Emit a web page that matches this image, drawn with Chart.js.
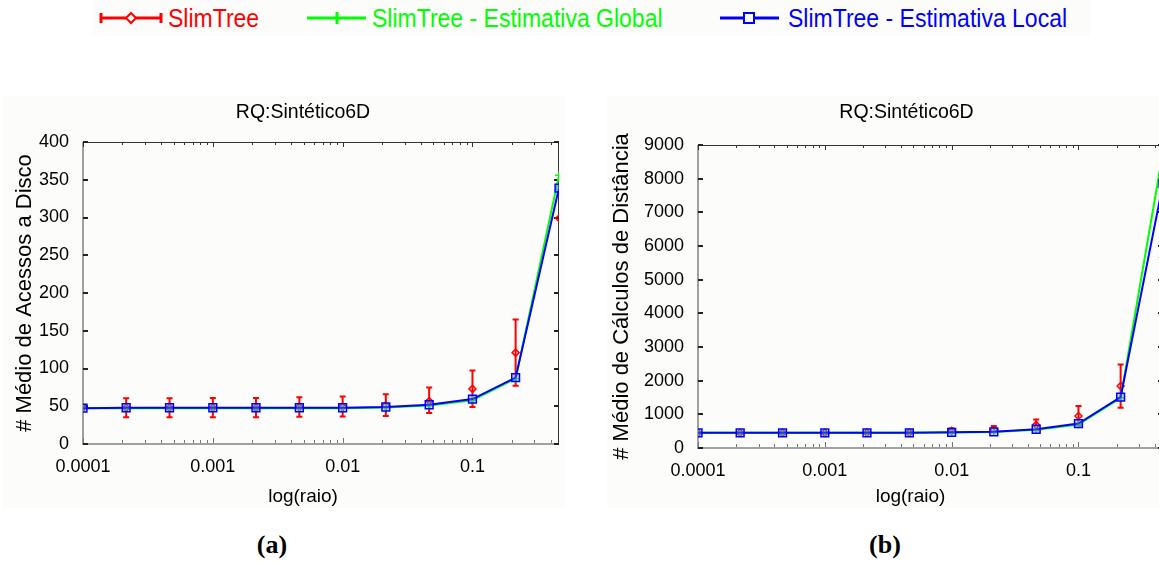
<!DOCTYPE html>
<html>
<head>
<meta charset="utf-8">
<script src="https://cdn.jsdelivr.net/npm/chart.js@4.4.0/dist/chart.umd.min.js"></script>
<style>
  html, body { margin: 0; padding: 0; background: #fff; }
  body { width: 1159px; height: 563px; position: relative; overflow: hidden; font-family: 'Liberation Sans', Arial, sans-serif; }
  .legend-box { position: absolute; left: 93px; top: 0; width: 997px; height: 36px; background: #fcfcfa; }
  .lg-icon { position: absolute; top: 0; }
  .lg-text { position: absolute; top: 0; line-height: 36px; font-size: 23px; white-space: nowrap; transform: scaleY(1.1); }
  .panel { position: absolute; top: 96px; height: 412px; background: #fcfcfa; }
  canvas { position: absolute; top: 88px; }
  .caption { position: absolute; top: 530px; font: bold 26px 'Liberation Serif', 'Times New Roman', serif; transform: translateX(-50%); }
</style>
</head>
<body>
<div class="legend-box"></div>
<svg class="lg-icon" style="left:99px" width="64" height="36">
  <path d="M2 18 H62 M2 13 V23 M62 13 V23" stroke="#ff0000" stroke-width="3" fill="none"/>
  <polygon points="32,13 37,18 32,23 27,18" fill="#fcfcfa" stroke="#ff0000" stroke-width="2"/>
</svg>
<span class="lg-text" style="left:168px;color:#ff0000">SlimTree</span>
<svg class="lg-icon" style="left:306px" width="62" height="36">
  <path d="M1 18 H60 M31 12 V24" stroke="#00ff00" stroke-width="3" fill="none"/>
</svg>
<span class="lg-text" style="left:372px;color:#00ff00">SlimTree - Estimativa Global</span>
<svg class="lg-icon" style="left:719px" width="62" height="36">
  <path d="M1 18 H60" stroke="#0000ff" stroke-width="3" fill="none"/>
  <rect x="25" y="13" width="10" height="10" fill="#fcfcfa" stroke="#0000ff" stroke-width="2"/>
</svg>
<span class="lg-text" style="left:788px;color:#0000ff">SlimTree - Estimativa Local</span>

<div class="panel" style="left:2px;width:563px"></div>
<div class="panel" style="left:607px;width:552px"></div>
<canvas id="chart-disk" width="571" height="422" style="left:0"></canvas>
<canvas id="chart-dist" width="570" height="422" style="left:606px"></canvas>
<div class="caption" style="left:272px">(a)</div>
<div class="caption" style="left:885px">(b)</div>

<script>
// radius values (x axis, log scale)
const RAIO = [0.0001, 0.000215, 0.000464, 0.001, 0.00215, 0.00464, 0.01, 0.0215, 0.0464, 0.1, 0.215, 0.464];
const X_TICK_LABELS = ['0.0001', '0.001', '0.01', '0.1'];

// (a) disk accesses
const DISK_SLIM    = [48, 48, 48, 48, 48, 49, 49.5, 51, 57, 73, 121, 299];
const DISK_SLIM_LO = [48, 35.5, 35.5, 35.5, 35.5, 36, 36.5, 37, 41, 49, 77, 299];
const DISK_SLIM_HI = [48, 60.5, 60.5, 61, 61, 62, 63, 66, 75, 97.5, 165, 299];
const DISK_GLOBAL  = [47.5, 47.5, 47.5, 47.5, 47.5, 47.5, 47.5, 48.5, 51, 58, 86.5, 356];
const DISK_LOCAL   = [47.5, 48, 48, 48, 48, 48, 48, 49, 52, 59.5, 88, 339];

// (b) distance calculations
const DIST_SLIM    = [450, 450, 450, 450, 455, 455, 509, 547, 686, 952, 1840, 5660];
const DIST_SLIM_LO = [450, 440, 440, 440, 440, 440, 460, 470, 530, 675, 1198, 5660];
const DIST_SLIM_HI = [450, 470, 470, 470, 475, 480, 577, 656, 843, 1248, 2480, 5660];
const DIST_GLOBAL  = [450, 450, 450, 450, 452, 452, 462, 478, 540, 700, 1490, 8800];
const DIST_LOCAL   = [450, 450, 450, 450, 452, 452, 465, 482, 557, 725, 1514, 7850];

const TITLE = 'RQ:Sintético6D';
const X_TITLE = 'log(raio)';

const FONT = "'Liberation Sans', Arial, sans-serif";
const RED = '#ff0000', GREEN = '#00ff00', BLUE = '#0000ff';

Chart.defaults.font.family = FONT;
Chart.defaults.color = '#000';

function isDecade(v) {
  const l = Math.log10(v);
  return Math.abs(l - Math.round(l)) < 1e-9;
}
function isLogStep(v) {
  const m = v / Math.pow(10, Math.floor(Math.log10(v) + 1e-9));
  return Math.abs(m - Math.round(m)) < 1e-6;
}
const pts = ys => RAIO.map((x, i) => ({ x, y: ys[i] }));

// frame with inward ticks + error bars, drawn under the series
const frameAndErrors = {
  id: 'frameAndErrors',
  beforeDatasetsDraw(chart) {
    const { ctx, chartArea: a, scales: { x, y } } = chart;
    ctx.save();
    // top / right frame
    ctx.strokeStyle = '#333';
    ctx.lineWidth = 1;
    ctx.beginPath();
    ctx.moveTo(a.left, a.top + 0.5); ctx.lineTo(a.right, a.top + 0.5);
    ctx.moveTo(a.right - 0.5, a.top); ctx.lineTo(a.right - 0.5, a.bottom);
    ctx.stroke();
    // left / bottom axes
    ctx.strokeStyle = '#a0a0a0';
    ctx.lineWidth = 2;
    ctx.beginPath();
    ctx.moveTo(a.left, a.top); ctx.lineTo(a.left, a.bottom);
    ctx.lineTo(a.right, a.bottom);
    ctx.stroke();
    // x ticks
    ctx.lineWidth = 1;
    x.ticks.forEach(t => {
      if (!isLogStep(t.value)) return;
      const px = Math.round(x.getPixelForValue(t.value)) + 0.5;
      const len = isDecade(t.value) ? 5 : 3;
      ctx.strokeStyle = '#333';
      ctx.beginPath(); ctx.moveTo(px, a.top); ctx.lineTo(px, a.top + len); ctx.stroke();
      ctx.strokeStyle = '#777';
      ctx.beginPath(); ctx.moveTo(px, a.bottom - 1); ctx.lineTo(px, a.bottom - 1 - len); ctx.stroke();
    });
    // y ticks
    ctx.strokeStyle = '#222';
    ctx.lineWidth = 2;
    y.ticks.forEach(t => {
      const py = Math.round(y.getPixelForValue(t.value));
      ctx.beginPath();
      ctx.moveTo(a.left, py); ctx.lineTo(a.left + 5, py);
      ctx.moveTo(a.right, py); ctx.lineTo(a.right - 5, py);
      ctx.stroke();
    });
    // error bars
    chart.data.datasets.forEach(ds => {
      if (!ds.errLo) return;
      ctx.strokeStyle = ds.borderColor;
      ctx.lineWidth = 2;
      ds.data.forEach((p, i) => {
        const lo = ds.errLo[i], hi = ds.errHi[i];
        if (lo === hi) return;
        const px = x.getPixelForValue(p.x);
        const yl = y.getPixelForValue(lo), yh = y.getPixelForValue(hi);
        ctx.beginPath();
        ctx.moveTo(px, yl); ctx.lineTo(px, yh);
        ctx.moveTo(px - 3, yl); ctx.lineTo(px + 3, yl);
        ctx.moveTo(px - 3, yh); ctx.lineTo(px + 3, yh);
        ctx.stroke();
      });
    });
    ctx.restore();
  }
};

// chart title and x-axis title, both set a little left of the plot centre
const headings = {
  id: 'headings',
  afterDraw(chart, args, opts) {
    const { ctx, chartArea: a } = chart;
    const cx = (a.left + a.right) / 2;
    ctx.save();
    ctx.fillStyle = '#000';
    ctx.textAlign = 'center';
    ctx.textBaseline = 'middle';
    ctx.font = `19.5px ${FONT}`;
    ctx.fillText(TITLE, cx + opts.titleDx, 25);
    ctx.font = `19px ${FONT}`;
    ctx.fillText(X_TITLE, cx + opts.xTitleDx, 409);
    ctx.restore();
  }
};

function makeChart(id, s) {
  return new Chart(document.getElementById(id), {
    type: 'line',
    data: {
      datasets: [
        {
          label: 'SlimTree', data: pts(s.slim), errLo: s.lo, errHi: s.hi,
          showLine: false, borderColor: RED, backgroundColor: 'rgba(0,0,0,0)',
          pointStyle: 'rectRot', pointRadius: 3.5, pointBorderWidth: 1.5, order: 3,
        },
        {
          label: 'SlimTree - Estimativa Global', data: pts(s.global),
          borderColor: GREEN, backgroundColor: GREEN, borderWidth: 2,
          pointStyle: 'cross', pointRadius: 4, pointBorderWidth: 1.5, order: 2,
        },
        {
          label: 'SlimTree - Estimativa Local', data: pts(s.local),
          borderColor: BLUE, backgroundColor: 'rgba(110,140,255,0.35)', borderWidth: 2,
          pointStyle: 'rect', pointRadius: 5.5, pointBorderWidth: 1.5, order: 1,
        },
      ]
    },
    options: {
      responsive: false,
      animation: false,
      events: [],
      layout: { autoPadding: false, padding: { left: 0, right: s.padRight, top: s.top, bottom: 0 } },
      plugins: {
        legend: { display: false },
        tooltip: { enabled: false },
        title: { display: false },
        headings: { titleDx: s.titleDx, xTitleDx: s.xTitleDx },
      },
      scales: {
        x: {
          type: 'logarithmic', min: RAIO[0], max: RAIO[RAIO.length - 1],
          grid: { display: false, drawTicks: false },
          border: { display: false },
          ticks: {
            autoSkip: false, maxRotation: 0, padding: 12, font: { size: 18 },
            callback: v => isDecade(v) ? X_TICK_LABELS[Math.round(Math.log10(v)) + 4] : '',
          },
          afterFit: sc => { sc.height = s.xHeight; },
        },
        y: {
          min: 0, max: s.yMax,
          grid: { display: false, drawTicks: false },
          border: { display: false },
          ticks: { stepSize: s.yStep, padding: 14, font: { size: 18 }, callback: v => String(v) },
          title: { display: true, text: s.yTitle, font: { size: 22 }, padding: { top: s.yTitlePad, bottom: 0 } },
          afterFit: sc => { sc.width = s.yWidth; },
        },
      },
    },
    plugins: [frameAndErrors, headings],
  });
}

makeChart('chart-disk', {
  slim: DISK_SLIM, lo: DISK_SLIM_LO, hi: DISK_SLIM_HI, global: DISK_GLOBAL, local: DISK_LOCAL,
  yMax: 400, yStep: 50, yTitle: '# Médio de Acessos a Disco',
  yWidth: 83, padRight: 12, top: 54, xHeight: 66, yTitlePad: 12,
  titleDx: -18, xTitleDx: -18,
});

makeChart('chart-dist', {
  slim: DIST_SLIM, lo: DIST_SLIM_LO, hi: DIST_SLIM_HI, global: DIST_GLOBAL, local: DIST_LOCAL,
  yMax: 9000, yStep: 1000, yTitle: '# Médio de Cálculos de Distância',
  yWidth: 92, padRight: 13, top: 57, xHeight: 62, yTitlePad: 3,
  titleDx: -24, xTitleDx: -20,
});
</script>
</body>
</html>
